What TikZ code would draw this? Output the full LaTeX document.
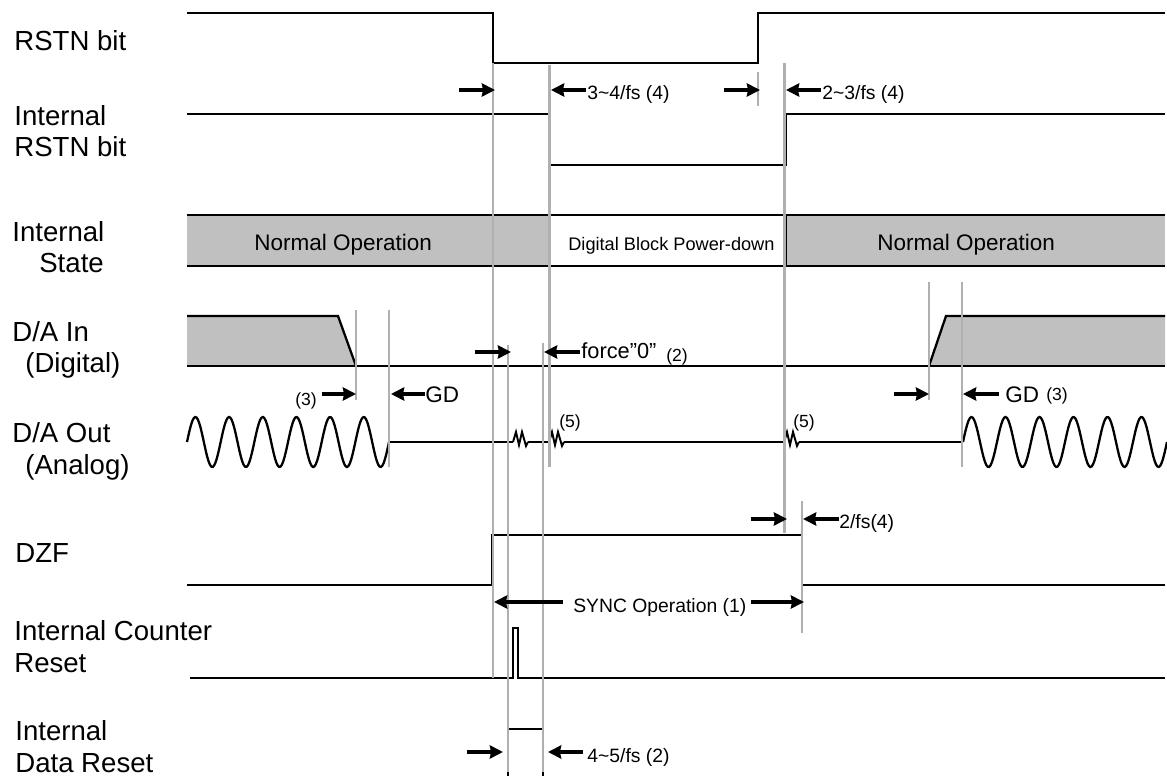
\documentclass[tikz,border=0pt]{standalone}
\usepackage{fontspec}
\setmainfont{Liberation Sans}
\usetikzlibrary{arrows.meta}
\definecolor{stategray}{HTML}{C0C0C0}
\definecolor{markgray}{HTML}{B0B0B0}
\tikzset{
  wave/.style={black,line width=1.3pt,line join=miter},
  mark line/.style={markgray,line width=1.25pt},
  gap arrow/.style={-{Stealth[length=7.5pt,width=7.5pt,inset=0.7pt]},line width=1.9pt},
  sig label/.style={anchor=base west,inner sep=0pt,font=\fontsize{15.7}{18}\selectfont},
  big note/.style={anchor=base west,inner sep=0pt,font=\fontsize{12.8}{15}\selectfont},
  mid note/.style={anchor=base west,inner sep=0pt,font=\fontsize{11}{13}\selectfont},
  small note/.style={anchor=base west,inner sep=0pt,font=\fontsize{10}{12}\selectfont}
}
\begin{document}
\begin{tikzpicture}[x=0.02cm,y=-0.02cm]
  \useasboundingbox (0,0) rectangle (1167,776);
  % shaded states
  \fill[stategray] (187,215) rectangle (550,266);
  \fill[stategray] (785,215) rectangle (1165,266);
  \fill[stategray] (187,316) -- (338,316) -- (356,366) -- (187,366) -- cycle;
  \fill[stategray] (929,366) -- (946,316) -- (1165,316) -- (1165,366) -- cycle;
  % signals
  \draw[wave] (187,13) -- (493,13) -- (493,63) -- (758,63) -- (758,13) -- (1165,13);
  \draw[wave] (187,114) -- (549,114) -- (549,165) -- (786,165) -- (786,114) -- (1165,114);
  \draw[wave] (187,215) -- (1165,215);
  \draw[wave] (187,266) -- (1165,266);
  \draw[wave] (786,215) -- (786,266);
  \draw[wave] (187,316) -- (338,316) -- (356,366);
  \draw[wave] (187,366) -- (1165,366);
  \draw[wave] (929,366) -- (946,316) -- (1165,316);
  \draw[wave] plot[domain=0:6,samples=150] ({187+33.67*\x},{442-25*sin(360*\x)});
  \draw[wave] plot[domain=0:6,samples=150] ({963+34*\x},{442-25*sin(360*\x)});
  \draw[wave] (389,442) -- (513,442);
  \draw[wave] (528,442) -- (549,442);
  \draw[wave] (564,442) -- (784,442);
  \draw[wave] (799,442) -- (963,442);
  \foreach \wx in {513,549,784} {
    \draw[black,line width=1.1pt] (\wx,442) -- ++(3,-10) -- ++(3,13) -- ++(3,-13) -- ++(4,14) -- ++(2,-4);
  }
  \draw[wave] (187,585) -- (492,585) -- (492,535) -- (802,535) -- (802,585) -- (1165,585);
  \draw[wave] (190,678) -- (513,678) -- (513,628) -- (518,628) -- (518,678) -- (1165,678);
  \draw[wave] (508,729) -- (543,729);
  % timing marks
  \draw[mark line] (493,63) -- (493,678);
  \draw[mark line] (549.5,65) -- (549.5,467);
  \draw[mark line] (758,72) -- (758,106);
  \draw[mark line] (784.5,63) -- (784.5,533);
  \draw[mark line] (802,501) -- (802,633);
  \draw[mark line] (356,310) -- (356,400);
  \draw[mark line] (389,310) -- (389,467);
  \draw[mark line] (929,282) -- (929,400);
  \draw[mark line] (962,282) -- (962,467);
  \draw[mark line] (508,345) -- (508,776);
  \draw[mark line] (543,343) -- (543,776);
  \draw[wave] (508,772) -- (508,776);
  \draw[wave] (543,772) -- (543,776);
  % arrows
  \draw[gap arrow] (459,90) -- (495,90);
  \draw[gap arrow] (586,90) -- (551,90);
  \draw[gap arrow] (724,90) -- (760,90);
  \draw[gap arrow] (821,90) -- (786,90);
  \draw[gap arrow] (475,352) -- (511,352);
  \draw[gap arrow] (580,352) -- (544,352);
  \draw[gap arrow] (322,394) -- (356,394);
  \draw[gap arrow] (425,394) -- (391,394);
  \draw[gap arrow] (894,394) -- (929,394);
  \draw[gap arrow] (999,394) -- (963,394);
  \draw[gap arrow] (751,519) -- (787,519);
  \draw[gap arrow] (839,519) -- (803,519);
  \draw[gap arrow] (563,602) -- (494,602);
  \draw[gap arrow] (751,602) -- (804,602);
  \draw[gap arrow] (467,752) -- (503,752);
  \draw[gap arrow] (583,752) -- (548,752);
  % signal names
  \node[sig label] (rstn) at (14,51) {RSTN bit};
  \node[sig label] (introne) at (14,126) {Internal};
  \node[sig label] (inttwo) at (14,157) {RSTN bit};
  \node[sig label] (stateone) at (12,242) {Internal};
  \node[sig label] (statetwo) at (39,273) {State};
  \node[sig label] (daone) at (12,342) {D/A In};
  \node[sig label] (datwo) at (25,373) {(Digital)};
  \node[sig label] (outone) at (12,443) {D/A Out};
  \node[sig label] (outtwo) at (25,475) {(Analog)};
  \node[sig label] (dzf) at (15,563) {DZF};
  \node[sig label] (cntone) at (14,641) {Internal Counter};
  \node[sig label] (cnttwo) at (14,673) {Reset};
  \node[sig label] (dataone) at (15,741) {Internal};
  \node[sig label] (datatwo) at (15,772) {Data Reset};
  % notes
  \node[big note] (normone) at (254,251) {Normal Operation};
  \node[big note] (normtwo) at (877,251) {Normal Operation};
  \node[mid note,font=\fontsize{10.35}{12}\selectfont] (pdown) at (568,251) {Digital Block Power-down};
  \node[mid note] (fsa) at (587,100) {3\textasciitilde 4/fs (4)};
  \node[mid note] (fsb) at (822,100) {2\textasciitilde 3/fs (4)};
  \node[big note,font=\fontsize{12.4}{15}\selectfont] (force) at (581,359) {force”0”};
  \node[small note] (forcenum) at (666,362) {(2)};
  \node[small note] (gdnum) at (295,406) {(3)};
  \node[big note] (gda) at (425,403) {GD};
  \node[big note] (gdb) at (1005,403) {GD};
  \node[small note] (gdbnum) at (1046,401) {(3)};
  \node[small note] (wiga) at (559,428) {(5)};
  \node[small note] (wigb) at (793,428) {(5)};
  \node[mid note] (fsc) at (839,529) {2/fs(4)};
  \node[mid note] (sync) at (573,613) {SYNC Operation (1)};
  \node[mid note] (fsd) at (587,763) {4\textasciitilde 5/fs (2)};
\end{tikzpicture}
\end{document}
